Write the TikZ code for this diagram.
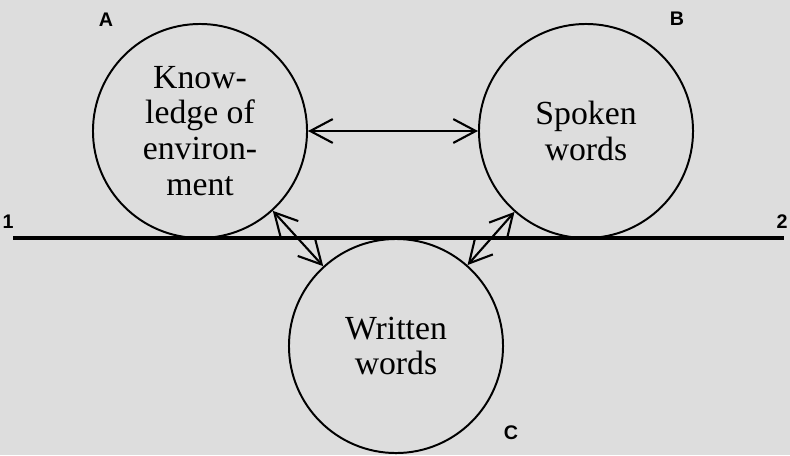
\documentclass[tikz,border=0pt]{standalone}
\usepackage{fontspec}
\setmainfont{Liberation Serif}
\setsansfont{Liberation Sans}
\usetikzlibrary{arrows.meta}
\definecolor{paper}{RGB}{221,221,221}
\tikzset{
  area/.style={draw, circle, line width=1.4pt, minimum size=5.35cm, inner sep=0pt,
    align=center, font=\fontsize{24}{25.5}\selectfont},
  tag/.style={font=\sffamily\bfseries\fontsize{14}{14}\selectfont, inner sep=0pt},
  barb/.tip={Straight Barb[length=16pt, width=17pt, line width=1.5pt]},
  link/.style={barb-barb, line width=1.5pt}
}
\begin{document}
\begin{tikzpicture}[x=0.025cm, y=-0.025cm]
  \useasboundingbox[fill=paper] (0,0) rectangle (790,455);
  \draw
    (200,131) node[area] (A) {Know-\\ledge of\\environ-\\ment}
    (586,131) node[area] (B) {Spoken\\words}
    (396,346) node[area] (C) {Written\\words};
  \node[tag] (a) at (106,20) {A};
  \node[tag] (b) at (677,19) {B};
  \node[tag] (c) at (511,433) {C};
  \node[tag] (one) at (8,222) {1};
  \node[tag] (two) at (782,222) {2};
  \coordinate (left) at (13,238);
  \coordinate (right) at (784,238);
  \draw[line width=2.4pt] (left) -- (right);
  \begin{scope}[link]
    \draw (A) to (B);
    \draw (A) to (C);
    \draw (B) to (C);
  \end{scope}
\end{tikzpicture}
\end{document}
